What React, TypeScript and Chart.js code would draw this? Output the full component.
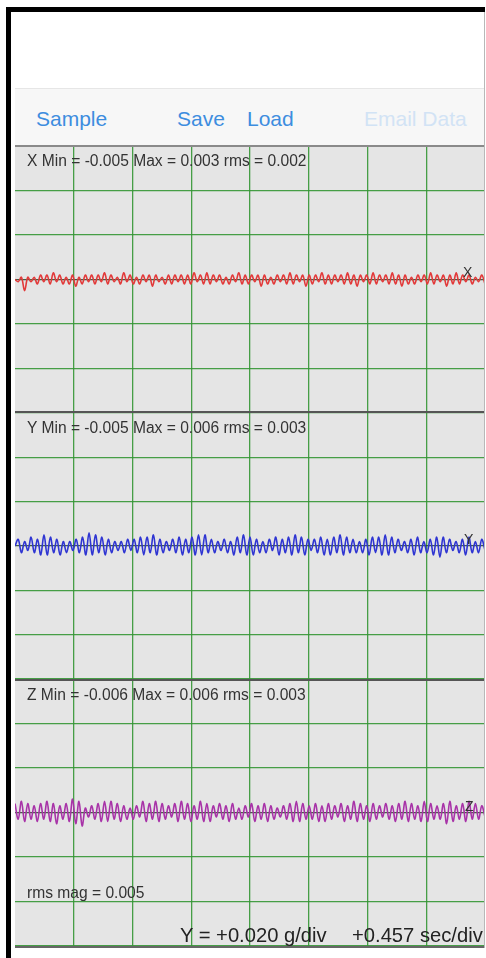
import React, { useEffect, useRef } from "react";
import { Chart, registerables } from "chart.js";

Chart.register(...registerables);

// Scope settings
const SEC_PER_DIV = 0.457;
const G_PER_DIV = 0.02;
const X_DIVS = 8;
const Y_DIVS = 6;

// Acceleration samples in milli-g
const xAxisMg = [
  0, -1, 1, -5, 1, -1, 1, -2, 2, -1, 2, -2, 3, -1, 2, -2, 1, -2, 2, -3, 1, -2, 2, -1, 2, -2, 2, -1, 3, -2,
  2, -1, 1, -2, 3, -1, 2, -2, 1, -2, 2, -1, 2, -3, 2, -1, 1, -2, 2, -2, 2, -1, 2, -2, 2, -2, 3, -1, 2, -2,
  3, -2, 2, -1, 2, -2, 1, -2, 2, -1, 3, -2, 2, -2, 2, -1, 2, -3, 2, -2, 1, -2, 2, -1, 2, -2, 3, -2, 2, -1,
  2, -3, 2, -2, 2, -1, 3, -2, 2, -2, 2, -1, 2, -2, 3, -2, 2, -3, 2, -1, 2, -2, 3, -2, 2, -1, 2, -2, 3, -2,
  2, -3, 2, -2, 1, -2, 2, -1, 2, -2, 3, -2, 2, -1, 2, -3, 2, -2, 3, -2, 2, -1, 2, -2, 1, -1, 2, -2,
];
const yAxisMg = [
  0, 3, -3, 2, -2, 4, -3, 3, -4, 5, -4, 4, -3, 3, -4, 2, -3, 2, -2, 3, -3, 4, -4, 6, -4, 5, -3, 4, -4, 3,
  -3, 2, -2, 2, -3, 3, -2, 3, -3, 4, -4, 4, -3, 5, -4, 3, -3, 2, -2, 3, -3, 4, -4, 3, -3, 4, -4, 5, -4, 5,
  -3, 3, -3, 2, -2, 3, -3, 2, -4, 4, -3, 5, -4, 4, -4, 3, -3, 2, -3, 3, -2, 4, -4, 3, -3, 4, -4, 5, -3, 4,
  -4, 3, -2, 3, -3, 4, -4, 3, -4, 4, -3, 5, -4, 4, -3, 3, -3, 2, -3, 3, -4, 4, -3, 4, -4, 5, -4, 4, -3, 3,
  -2, 2, -3, 3, -4, 4, -3, 2, -3, 3, -4, 4, -5, 4, -3, 3, -2, 2, -3, 3, -4, 4, -3, 2, -3, 3, -2,
];
const zAxisMg = [
  4, -3, 5, -4, 4, -3, 3, -4, 4, -3, 5, -4, 4, -5, 3, -3, 4, -4, 6, -5, 5, -6, 2, -2, 3, -3, 4, -4, 5, -4,
  5, -3, 4, -4, 3, -3, 2, -3, 3, -2, 5, -4, 4, -3, 5, -4, 4, -3, 3, -2, 4, -4, 5, -3, 4, -4, 3, -3, 5, -4,
  4, -4, 3, -2, 4, -3, 3, -4, 4, -3, 2, -3, 3, -2, 4, -4, 3, -3, 4, -4, 3, -3, 2, -2, 3, -3, 4, -4, 5, -4,
  4, -3, 3, -3, 4, -4, 3, -4, 4, -3, 3, -2, 4, -4, 3, -3, 5, -4, 4, -3, 3, -4, 4, -3, 3, -2, 4, -3, 3, -4,
  4, -3, 5, -4, 4, -3, 3, -4, 5, -4, 4, -3, 3, -3, 4, -5, 5, -4, 3, -3, 4, -4, 5, -3, 4, -3, 3, -2,
];

const statsX = "X Min = -0.005 Max = 0.003 rms = 0.002";
const statsY = "Y Min = -0.005 Max = 0.006 rms = 0.003";
const statsZ = "Z Min = -0.006 Max = 0.006 rms = 0.003";
const rmsMag = "rms mag = 0.005";
const scaleY = "Y = +0.020 g/div";
const scaleX = "+0.457 sec/div";

const GRID = "rgba(52,150,52,0.9)";
const CENTER = "rgba(40,70,40,0.85)";
const FONT = '"Liberation Sans", Arial, Helvetica, sans-serif';
const CANVAS_W = 470;

function Trace(props: { values: number[]; color: string; top: number; height: number }) {
  const ref = useRef<HTMLCanvasElement>(null);
  useEffect(() => {
    const n = props.values.length;
    const span = SEC_PER_DIV * X_DIVS;
    const data = props.values.map((v, i) => ({ x: (i * span) / (n - 1), y: v / 1000 }));
    const half = (Y_DIVS / 2) * G_PER_DIV;
    const chart = new Chart(ref.current as HTMLCanvasElement, {
      type: "line",
      data: {
        datasets: [
          {
            data,
            borderColor: props.color,
            borderWidth: 1.6,
            pointRadius: 0,
            tension: 0.35,
            fill: false,
          },
        ],
      },
      options: {
        animation: false,
        responsive: false,
        maintainAspectRatio: false,
        layout: { padding: 0 },
        plugins: { legend: { display: false }, tooltip: { enabled: false } },
        scales: {
          x: {
            type: "linear",
            min: 0,
            max: span,
            ticks: { display: false, stepSize: SEC_PER_DIV },
            grid: {
              color: (c: any) => (c.tick && Math.abs(c.tick.value) < 1e-9 ? "rgba(0,0,0,0)" : GRID),
              lineWidth: 1.3,
              drawTicks: false,
            },
            border: { display: false },
          },
          y: {
            type: "linear",
            min: -half,
            max: half,
            ticks: { display: false, stepSize: G_PER_DIV },
            grid: {
              color: (c: any) => (c.tick && Math.abs(c.tick.value) < 1e-9 ? CENTER : GRID),
              lineWidth: 1.3,
              drawTicks: false,
            },
            border: { display: false },
          },
        },
      },
    } as any);
    return () => chart.destroy();
  }, []);
  return (
    <canvas
      ref={ref}
      width={CANVAS_W}
      height={props.height}
      style={{ position: "absolute", left: 15, top: props.top, width: CANVAS_W, height: props.height }}
    />
  );
}

function Txt(props: { left: number; top: number; size: number; color: string; children: any }) {
  return (
    <div
      style={{
        position: "absolute",
        left: props.left,
        top: props.top,
        fontSize: props.size,
        lineHeight: 1,
        color: props.color,
        fontFamily: FONT,
        whiteSpace: "nowrap",
        zIndex: 5,
      }}
    >
      {props.children}
    </div>
  );
}

function Box(props: { left: number; top: number; width: number; height: number; bg: string; z?: number }) {
  return (
    <div
      style={{
        position: "absolute",
        left: props.left,
        top: props.top,
        width: props.width,
        height: props.height,
        background: props.bg,
        zIndex: props.z ?? 0,
      }}
    />
  );
}

export default function App() {
  const blue = "#3d8ddf";
  const label = "#333333";
  return (
    <div style={{ position: "absolute", left: 0, top: 0, width: 486, height: 958, background: "#ffffff", overflow: "hidden" }}>
      {/* frame */}
      <Box left={6} top={7} width={479} height={5} bg="#000" z={6} />
      <Box left={6} top={7} width={5} height={951} bg="#000" z={6} />
      <Box left={484} top={12} width={1} height={936} bg="#b8b8b8" z={6} />
      {/* toolbar */}
      <Box left={15} top={88} width={470} height={58} bg="#f7f7f7" />
      <Box left={15} top={88} width={470} height={1} bg="#e6e6e6" />
      <Txt left={36} top={108} size={21} color={blue}>Sample</Txt>
      <Txt left={177} top={108} size={21} color={blue}>Save</Txt>
      <Txt left={247} top={108} size={21} color={blue}>Load</Txt>
      <Txt left={364} top={108} size={21} color="#d2e3f5">Email Data</Txt>
      {/* scope panel */}
      <Box left={15} top={146} width={470} height={800} bg="#e5e5e5" />
      <Trace values={xAxisMg} color="#e23a3a" top={146} height={267} />
      <Trace values={yAxisMg} color="#2f35d2" top={413} height={266} />
      <Trace values={zAxisMg} color="#a833a8" top={679} height={267} />
      <Box left={15} top={145} width={470} height={1.5} bg="#8a8a8a" z={4} />
      <Box left={15} top={411} width={470} height={2} bg="#555" z={4} />
      <Box left={15} top={679} width={470} height={2} bg="#555" z={4} />
      <Box left={15} top={946} width={470} height={2} bg="#666" z={4} />
      <Txt left={27} top={153} size={15.6} color={label}>{statsX}</Txt>
      <Txt left={27} top={420} size={15.6} color={label}>{statsY}</Txt>
      <Txt left={27} top={687} size={15.6} color={label}>{statsZ}</Txt>
      <Txt left={463} top={265} size={14} color={label}>X</Txt>
      <Txt left={464} top={532} size={14} color={label}>Y</Txt>
      <Txt left={465} top={799} size={14} color={label}>Z</Txt>
      <Txt left={27} top={885} size={15.6} color={label}>{rmsMag}</Txt>
      <Txt left={180} top={925} size={20.2} color="#222">{scaleY}</Txt>
      <Txt left={352} top={925} size={20.2} color="#222">{scaleX}</Txt>
    </div>
  );
}
